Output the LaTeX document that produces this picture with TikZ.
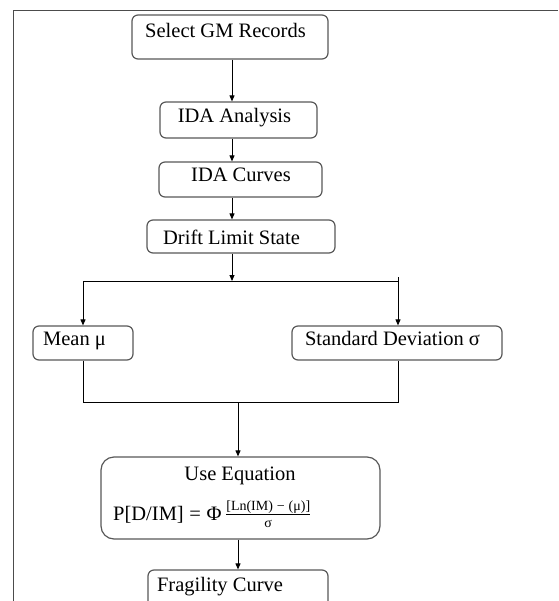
\documentclass[tikz,border=0pt]{standalone}
\usepackage{amsmath}
\usepackage{fontspec}
\setmainfont{Liberation Serif}
\usetikzlibrary{arrows.meta}
\begin{document}
\begin{tikzpicture}[x=1pt,y=-1pt,
  box/.style={draw=black!65, line width=1.2pt, rounded corners=6pt, inner sep=0pt},
  bigbox/.style={box, rounded corners=13pt},
  lbl/.style={anchor=base, inner sep=0pt, font=\fontsize{20.5}{24}\selectfont, text=black},
  conn/.style={draw=black, line width=0.9pt},
  arr/.style={conn, -{Triangle[length=6pt,width=5pt]}},
  frame/.style={draw=black!70, line width=0.9pt}]
\useasboundingbox (0,0) rectangle (558,601);
\clip (0,0) rectangle (558,601);
\fill[white] (0,0) rectangle (558,601);
% frame
\draw[frame] (13,601) -- (13,10) -- (558,10);
% boxes
\node[box, minimum width=196pt, minimum height=44pt] (sel) at (230,37) {};
\node[box, minimum width=157pt, minimum height=36pt] (ida) at (238.5,120) {};
\node[box, minimum width=163pt, minimum height=35pt] (cur) at (240.5,179.5) {};
\node[box, minimum width=188pt, minimum height=33pt] (drift) at (241,236.5) {};
\node[box, minimum width=100pt, minimum height=34pt] (mean) at (83,343) {};
\node[box, minimum width=210pt, minimum height=34pt] (sd) at (397,343) {};
\node[bigbox, minimum width=279pt, minimum height=82pt] (eq) at (240.5,498) {};
\node[box, minimum width=180pt, minimum height=50pt] (frag) at (238,595) {};
% texts
\node[lbl] (tsel) at (225.5,37.5) {Select GM Records};
\node[lbl] (tida) at (234.5,122.5) {IDA Analysis};
\node[lbl] (tcur) at (241,181.5) {IDA Curves};
\node[lbl] (tdrift) at (231.5,244) {Drift Limit State};
\node[lbl] (tmean) at (74.5,345.5) {Mean μ};
\node[lbl] (tsd) at (392.5,345.5) {Standard Deviation σ};
\node[lbl] (tuse) at (240,480.5) {Use Equation};
\node[lbl, anchor=base west] (teq) at (113,520) {P[D/IM]\;=\;Φ\,$\genfrac{}{}{0.7pt}{}{\mbox{\fontsize{14}{16}\selectfont [Ln(IM)\;−\;(μ)]}}{\mbox{\fontsize{14}{16}\selectfont σ}}$};
\node[lbl] (tfrag) at (220,591) {Fragility Curve};
% connectors
\coordinate (spine) at (232,0);
\coordinate (jl) at (83,281);
\coordinate (jr) at (398,281);
\coordinate (ml) at (83,402);
\coordinate (mr) at (398,402);
\coordinate (mc) at (238,402);
\draw[arr] (sel.south -| spine) -- (ida.north -| spine);
\draw[arr] (ida.south -| spine) -- (cur.north -| spine);
\draw[arr] (cur.south -| spine) -- (drift.north -| spine);
\draw[arr] (drift.south -| spine) -- (spine |- jl);
\draw[conn] (jl) -- (jr) -- ++(0,-4);
\draw[arr] (jl) -- (mean.north);
\draw[arr] (jr) -- (jr |- sd.north);
\draw[conn] (mean.south) -- (ml) -- (mr) -- (mr |- sd.south);
\draw[arr] (mc) -- (mc |- eq.north);
\draw[arr] (eq.south -| mc) -- (frag.north -| mc);
\end{tikzpicture}
\end{document}
